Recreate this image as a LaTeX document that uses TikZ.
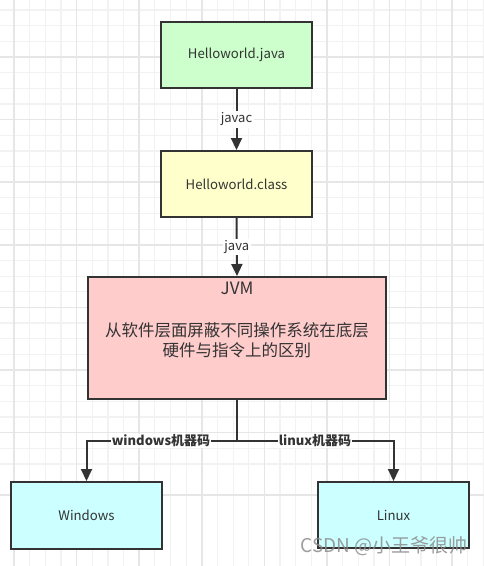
\documentclass[tikz,border=0pt]{standalone}
\usepackage{fontspec}
\setmainfont{Noto Sans CJK SC}
\usetikzlibrary{arrows.meta}
\definecolor{ink}{HTML}{333333}
\definecolor{gminor}{HTML}{F2F2F2}
\definecolor{gmajor}{HTML}{E6E6E6}
\definecolor{fgreen}{HTML}{CCFFCC}
\definecolor{fyellow}{HTML}{FFFFCC}
\definecolor{fpink}{HTML}{FFCCCC}
\definecolor{fcyan}{HTML}{CCFFFF}
\tikzset{
  minorline/.style={gminor, line width=1.2pt},
  majorline/.style={gmajor, line width=1.5pt},
  box/.style={draw=ink, line width=2pt, text=ink, minimum width=151pt, minimum height=66pt, inner sep=0pt, font=\fontsize{13.2}{15}\selectfont},
  conn/.style={draw=ink, line width=2pt, -{Triangle[length=12pt,width=11pt]}},
  lbl/.style={fill=white, text=ink, inner sep=1.5pt, font=\fontsize{13}{15}\selectfont},
  blbl/.style={fill=white, text=ink, inner sep=1pt, font=\fontsize{13}{15}\selectfont\bfseries},
}
\begin{document}
\begin{tikzpicture}[x=1pt,y=-1pt]
\useasboundingbox (0,0) rectangle (484,566);
\fill[white] (0,0) rectangle (484,566);
% grid
\foreach \i in {0,...,30} {
  \draw[minorline] ({14+15.65*\i},0) -- ++(0,566);
  \draw[minorline] (0,{10.05+15.65*(\i-1)}) -- ++(484,0);
}
\foreach \i in {0,...,8} {
  \draw[majorline] ({14+62.6*\i},0) -- ++(0,566);
  \draw[majorline] (0,{-5.6+62.6*\i}) -- ++(484,0);
}
% boxes
\node[box, fill=fgreen] (java) at (236.5,55) {Helloworld.java};
\node[box, fill=fyellow] (class) at (236.5,184) {Helloworld.class};
\node[box, fill=fpink, minimum width=298pt, minimum height=122pt] (jvm) at (237,338) {};
\node[text=ink, inner sep=0pt, font=\fontsize{17}{20}\selectfont] (jvmt) at (237,288) {JVM};
\node[text=ink, inner sep=0pt, align=center, font=\fontsize{16.5}{20}\selectfont] (jvmd) at (237,340) {从软件层面屏蔽不同操作系统在底层\\硬件与指令上的区别};
\node[box, fill=fcyan, minimum height=67pt] (win) at (86.5,515.5) {Windows};
\node[box, fill=fcyan] (lin) at (393.5,515) {Linux};
% connectors
\coordinate (split) at (237,441);
\draw[conn] (java.south) -- node[lbl] {javac} (class.north);
\draw[conn] (class.south) -- node[lbl] {java} (jvm.north);
\draw[draw=ink, line width=2pt] (jvm.south) -- (split);
\draw[conn] (split) -- (win.north |- split) -- (win.north);
\draw[conn] (split) -- (lin.north |- split) -- (lin.north);
\node[blbl] (wl) at (161,441) {windows机器码};
\node[blbl] (ll) at (315,441) {linux机器码};
% watermark
\node[text=gray!90, opacity=0.85, inner sep=0pt, font=\fontsize{19}{21}\selectfont] (wm) at (384,546) {CSDN @小王爷很帅};
\end{tikzpicture}
\end{document}
